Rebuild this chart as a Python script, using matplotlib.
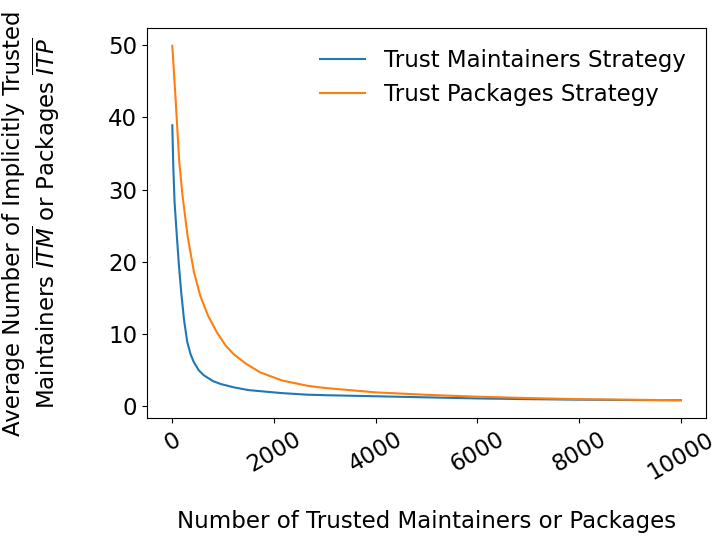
import matplotlib
matplotlib.use("Agg")
import matplotlib.pyplot as plt

# values
trusted_m = [0, 20, 45, 85, 130, 175, 230, 294, 360, 425, 520, 620, 800,
             950, 1200, 1500, 2150, 2650, 3000, 4000, 5000, 6000, 7000,
             8000, 9000, 10000]
itm = [38.9, 33.0, 28.2, 24.0, 19.5, 15.8, 12.0, 8.9, 7.2, 6.1, 5.0, 4.3, 3.5,
       3.1, 2.65, 2.25, 1.84, 1.62, 1.55, 1.40, 1.25, 1.1, 1.0,
       0.93, 0.88, 0.85]

trusted_p = [0, 65, 135, 200, 300, 425, 550, 700, 880, 1050, 1210, 1450,
             1730, 2150, 2650, 3000, 4000, 5000, 6000, 7000, 8000, 9000, 10000]
itp = [49.9, 42.5, 34.0, 29.2, 23.6, 18.6, 15.3, 12.6, 10.2, 8.4, 7.2, 5.9,
       4.7, 3.6, 2.86, 2.55, 1.94, 1.6, 1.34, 1.15, 1.0, 0.92, 0.85]

fs = 16.5

fig, ax = plt.subplots(figsize=(7.2, 5.4), dpi=100)
fig.subplots_adjust(left=0.204, right=0.981, top=0.948, bottom=0.226)

ax.plot(trusted_m, itm, label="Trust Maintainers Strategy")
ax.plot(trusted_p, itp, label="Trust Packages Strategy")

ax.set_xlabel("Number of Trusted Maintainers or Packages", fontsize=fs)
ax.set_ylabel("Average Number of Implicitly Trusted\n"
              r"Maintainers $\overline{ITM}$ or Packages $\overline{ITP}$",
              fontsize=fs)
ax.xaxis.set_label_coords(0.5, -0.236)
ax.yaxis.set_label_coords(-0.152, 0.5)
ax.tick_params(axis="both", labelsize=fs)
ax.tick_params(axis="x", labelrotation=30)
ax.legend(frameon=False, fontsize=fs, loc="upper right")

fig.savefig("out.png")
